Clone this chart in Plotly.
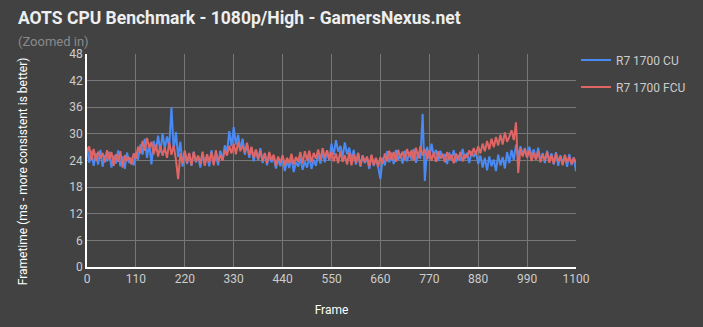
import plotly.graph_objects as go

frames = list(range(0, 1101, 5))

cu_frametime = [
    27.0, 23.5, 26.2, 22.8, 25.6, 23.1, 26.4, 22.6, 25.2, 23.8, 26.0,
    22.4, 25.1, 23.3, 26.3, 22.7, 24.9, 22.1, 25.8, 23.4, 24.6, 22.9,
    25.9, 24.2, 27.6, 25.3, 28.9, 24.6, 27.8, 23.1, 28.4, 26.2, 29.6,
    25.8, 30.1, 26.7, 29.4, 27.1, 36.0, 26.3, 30.4, 24.8, 28.2, 22.6,
    26.1, 23.2, 25.4, 22.8, 26.0, 23.6, 24.9, 22.4, 25.7, 23.1, 25.2,
    22.7, 26.3, 23.4, 25.1, 22.9, 26.2, 24.1, 27.4, 25.8, 30.6, 27.2,
    31.5, 27.6, 29.8, 26.4, 28.9, 25.3, 27.7, 24.6, 26.9, 23.8, 26.4,
    24.1, 26.8, 23.4, 25.7, 22.9, 25.1, 23.6, 24.8, 22.2, 24.3, 22.7,
    24.6, 21.6, 23.9, 22.3, 24.8, 21.4, 23.7, 22.6, 24.5, 21.9, 23.8,
    22.4, 24.9, 22.1, 24.2, 22.8, 25.6, 23.3, 25.9, 23.6, 26.1, 24.0,
    27.8, 25.2, 28.6, 26.0, 27.3, 24.8, 28.1, 25.4, 26.9, 24.2, 26.4,
    23.1, 25.7, 22.6, 25.2, 23.4, 24.6, 22.1, 25.0, 22.8, 24.4, 22.5,
    19.8, 24.6, 22.9, 26.1, 23.6, 25.8, 23.2, 26.4, 24.1, 25.5, 23.3,
    26.2, 23.8, 25.9, 24.2, 26.6, 23.5, 25.7, 24.4, 34.5, 19.4, 27.1,
    24.3, 27.8, 25.1, 26.4, 23.9, 26.2, 24.6, 25.4, 23.2, 25.8, 24.1,
    26.3, 23.6, 25.2, 23.9, 26.6, 24.3, 25.7, 23.4, 26.1, 24.8, 25.9,
    23.2, 25.1, 22.4, 24.6, 21.8, 24.9, 22.7, 24.2, 21.6, 25.3, 22.9,
    24.8, 22.2, 25.9, 23.4, 26.4, 24.1, 27.6, 24.9, 27.2, 25.3, 26.8,
    24.6, 27.1, 25.0, 26.5, 24.2, 26.9, 23.8, 25.7, 23.4, 26.2, 24.0,
    25.6, 23.1, 25.9, 22.8, 25.2, 23.5, 24.9, 22.6, 25.4, 23.0, 24.7,
    21.6,
]

fcu_frametime = [
    25.8, 27.2, 24.1, 26.6, 23.9, 26.0, 24.4, 25.7, 23.6, 26.3, 24.2,
    25.9, 22.8, 25.4, 23.7, 26.1, 22.4, 25.2, 23.9, 24.8, 23.1, 25.6,
    24.3, 27.1, 25.6, 28.4, 26.2, 29.1, 26.8, 28.2, 25.4, 27.6, 24.9,
    27.3, 25.1, 26.9, 24.6, 28.1, 25.3, 27.4, 24.2, 19.8, 25.6, 23.4,
    26.2, 23.5, 25.7, 22.9, 25.9, 23.8, 25.1, 23.2, 26.0, 22.8, 25.4,
    23.6, 25.8, 22.9, 26.3, 23.7, 25.2, 24.0, 26.4, 25.1, 27.3, 25.6,
    27.8, 25.4, 28.2, 26.1, 27.4, 25.8, 28.0, 25.2, 27.1, 24.6, 26.5,
    24.3, 26.2, 23.9, 25.6, 23.4, 25.9, 24.1, 25.3, 22.8, 24.9, 23.5,
    25.2, 22.9, 24.6, 23.4, 25.5, 23.1, 24.8, 23.7, 25.9, 23.3, 26.1,
    24.0, 26.2, 23.6, 25.7, 24.4, 26.5, 24.1, 26.8, 24.6, 26.3, 24.2,
    26.0, 23.8, 25.6, 23.4, 26.1, 23.7, 25.2, 23.1, 25.8, 22.9, 25.4,
    23.5, 25.7, 22.8, 25.1, 23.6, 24.9, 22.7, 25.3, 23.0, 24.6, 22.6,
    24.8, 23.3, 25.6, 23.8, 26.2, 24.1, 25.9, 23.7, 26.4, 24.5, 26.0,
    24.2, 26.6, 24.8, 26.3, 24.0, 26.9, 24.5, 27.2, 25.1, 26.6, 24.3,
    26.4, 24.0, 25.8, 23.7, 26.1, 24.4, 25.5, 23.6, 25.9, 24.2, 25.3,
    23.4, 25.6, 24.1, 26.0, 23.8, 25.4, 24.6, 26.3, 25.0, 26.8, 25.3,
    27.2, 25.6, 27.8, 26.1, 28.4, 26.5, 28.9, 27.0, 29.3, 27.4, 29.8,
    27.6, 30.3, 28.2, 29.4, 30.8, 28.6, 32.6, 21.2, 26.8, 24.9, 26.6,
    24.7, 26.3, 23.9, 25.8, 24.2, 26.1, 23.6, 25.4, 24.0, 25.9, 23.5,
    25.2, 23.3, 25.6, 23.8, 24.9, 22.9, 25.3, 23.6, 24.8, 23.2, 24.6,
    23.4,
]

series_names = ["R7 1700 CU", "R7 1700 FCU"]
y_ticks = [0, 6, 12, 18, 24, 30, 36, 42, 48]
x_ticks = [0, 110, 220, 330, 440, 550, 660, 770, 880, 990, 1100]

BG = "#424242"
FONT = "Roboto"
L, R, T, B = 87, 124, 54, 58
PW, PH = 703 - L - R, 327 - T - B

fig = go.Figure()
fig.add_trace(go.Scatter(x=frames, y=cu_frametime, mode="lines", name=series_names[0],
                         legendgroup="a", line=dict(color="#4a8af4", width=2)))
fig.add_trace(go.Scatter(x=frames, y=fcu_frametime, mode="lines", name=series_names[1],
                         legendgroup="b", line=dict(color="#e06666", width=2)))

def px(xp):
    return (xp - L) / PW

def py(yp):
    return 1 - (yp - T) / PH

fig.update_layout(
    width=703, height=327,
    paper_bgcolor=BG, plot_bgcolor=BG,
    margin=dict(l=L, r=R, t=T, b=B),
    font=dict(family=FONT, color="#cccccc", size=12),
    showlegend=True,
    legend=dict(x=1.0, xanchor="left", y=1.04, yanchor="top",
                bgcolor="rgba(0,0,0,0)", font=dict(size=12, color="#cccccc"),
                tracegroupgap=8, itemwidth=30),
    xaxis=dict(range=[0, 1100], tickvals=x_ticks, showgrid=True, gridcolor="#777777",
               gridwidth=1, showline=True, linecolor="#ffffff", linewidth=1.5,
               zeroline=False, ticks="", tickfont=dict(size=12, color="#cccccc"),
               title=dict(text="Frame", font=dict(size=12, color="#ffffff"), standoff=20)),
    yaxis=dict(range=[0, 48], tickvals=y_ticks, showgrid=True, gridcolor="#777777",
               gridwidth=1, showline=True, linecolor="#ffffff", linewidth=1.5,
               zeroline=False, ticks="", tickfont=dict(size=12, color="#cccccc")),
    annotations=[
        dict(text="<b>AOTS CPU Benchmark - 1080p/High - GamersNexus.net</b>",
             xref="paper", yref="paper", x=px(16), y=py(18),
             xanchor="left", yanchor="middle", showarrow=False,
             font=dict(size=17.5, color="#eeeeee", family=FONT)),
        dict(text="(Zoomed in)",
             xref="paper", yref="paper", x=px(16), y=py(41),
             xanchor="left", yanchor="middle", showarrow=False,
             font=dict(size=13, color="#8a8a8a", family=FONT)),
        dict(text="Frametime (ms - more consistent is better)",
             xref="paper", yref="paper", x=px(23), y=py(172),
             xanchor="center", yanchor="middle", textangle=-90, showarrow=False,
             font=dict(size=12, color="#ffffff", family=FONT)),
    ],
)

fig.write_html("out.html")
